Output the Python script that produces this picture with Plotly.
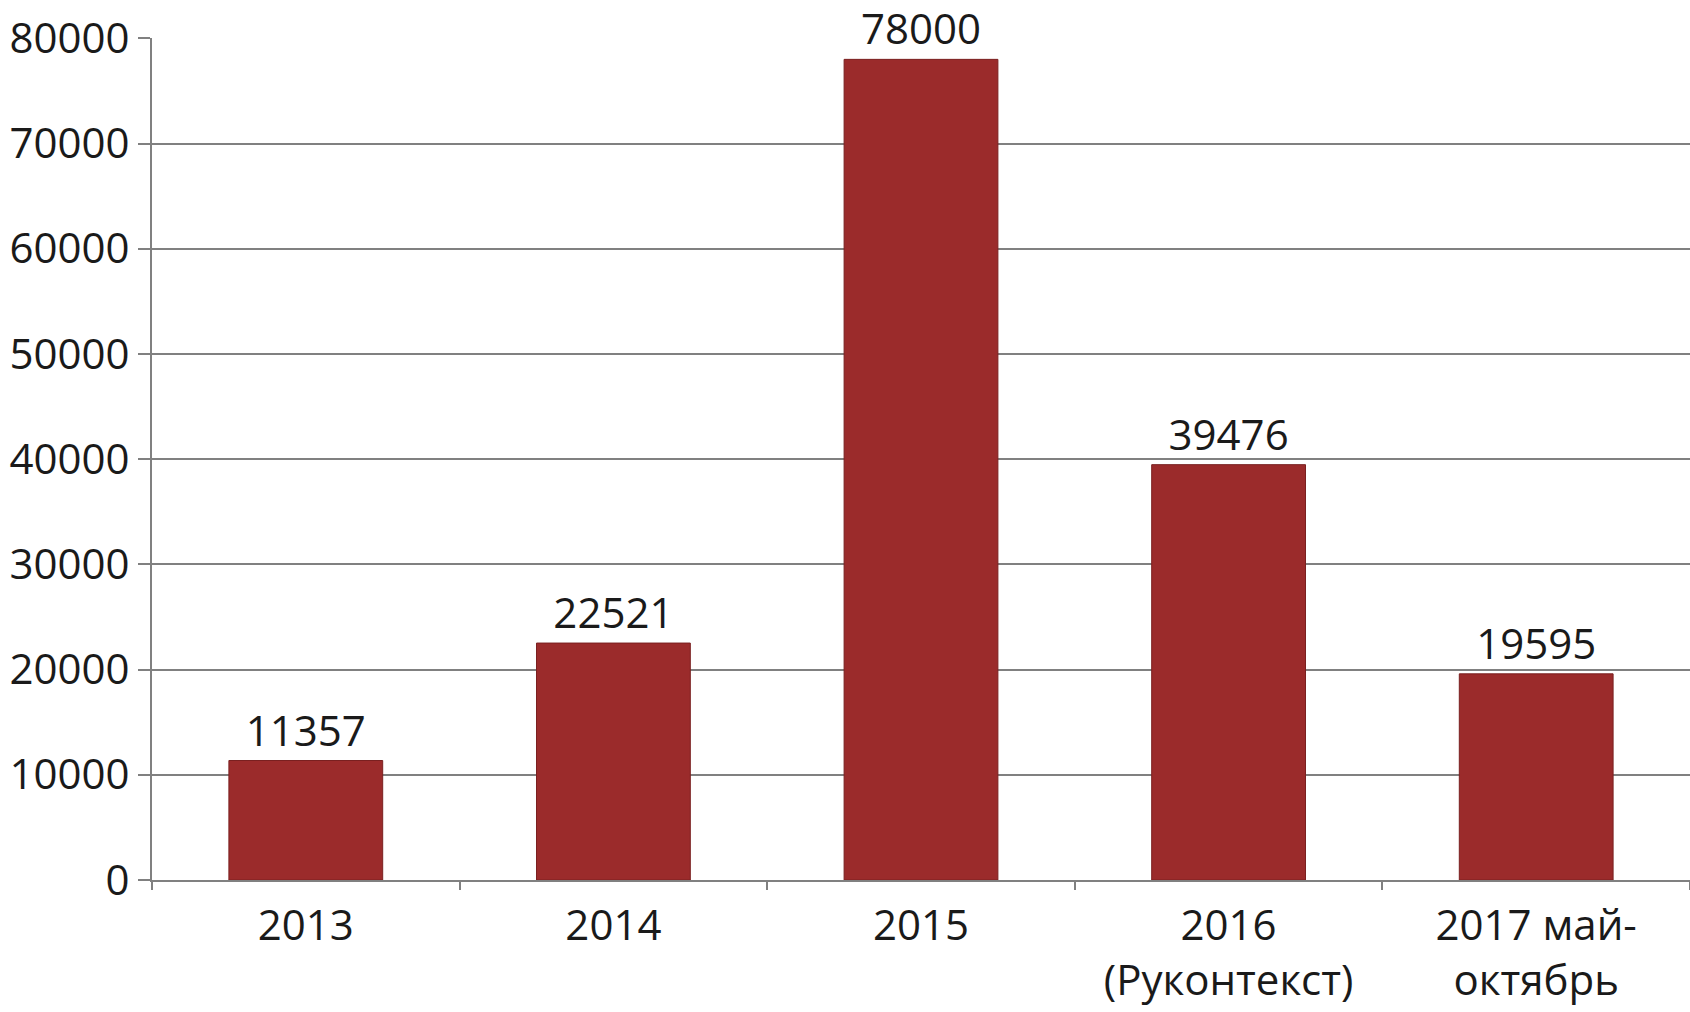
import plotly.graph_objects as go

categories = ["2013", "2014", "2015", "2016<br>(Руконтекст)", "2017 май-<br>октябрь"]
values = [11357, 22521, 78000, 39476, 19595]
y_ticks = [0, 10000, 20000, 30000, 40000, 50000, 60000, 70000, 80000]

FONT = "Open Sans"
TXT = "#1a1a1a"
GRID = "#808080"

fig = go.Figure(go.Bar(
    x=categories,
    y=values,
    marker=dict(color="#9b2b2b", line=dict(color="#7a2020", width=1)),
    text=[str(v) for v in values],
    textposition="outside",
    textfont=dict(family=FONT, size=42, color=TXT),
    cliponaxis=False,
))

fig.update_layout(
    width=1690, height=1012,
    margin=dict(l=152, r=0, t=38, b=132),
    paper_bgcolor="white", plot_bgcolor="white",
    bargap=0.5,
    showlegend=False,
    font=dict(family=FONT, size=42, color=TXT),
)
fig.update_xaxes(
    type="category", automargin=False,
    showline=True, linecolor=GRID, linewidth=2,
    ticks="outside", tickson="boundaries", ticklen=8, tickcolor=GRID, tickwidth=2,
    ticklabelstandoff=8,
    tickfont=dict(family=FONT, size=42, color=TXT),
    showgrid=False,
)
fig.update_yaxes(
    range=[0, 80030], automargin=False,
    tickvals=y_ticks, ticktext=[str(v) for v in y_ticks],
    showline=True, linecolor=GRID, linewidth=2,
    ticks="outside", ticklen=12, tickcolor=GRID, tickwidth=2,
    showgrid=True, gridcolor=GRID, gridwidth=2,
    zeroline=False,
    tickfont=dict(family=FONT, size=42, color=TXT),
)

fig.write_html(
    "out.html",
    config={"displayModeBar": False},
    post_script="document.body.style.margin='0';document.body.style.overflow='hidden';",
)
